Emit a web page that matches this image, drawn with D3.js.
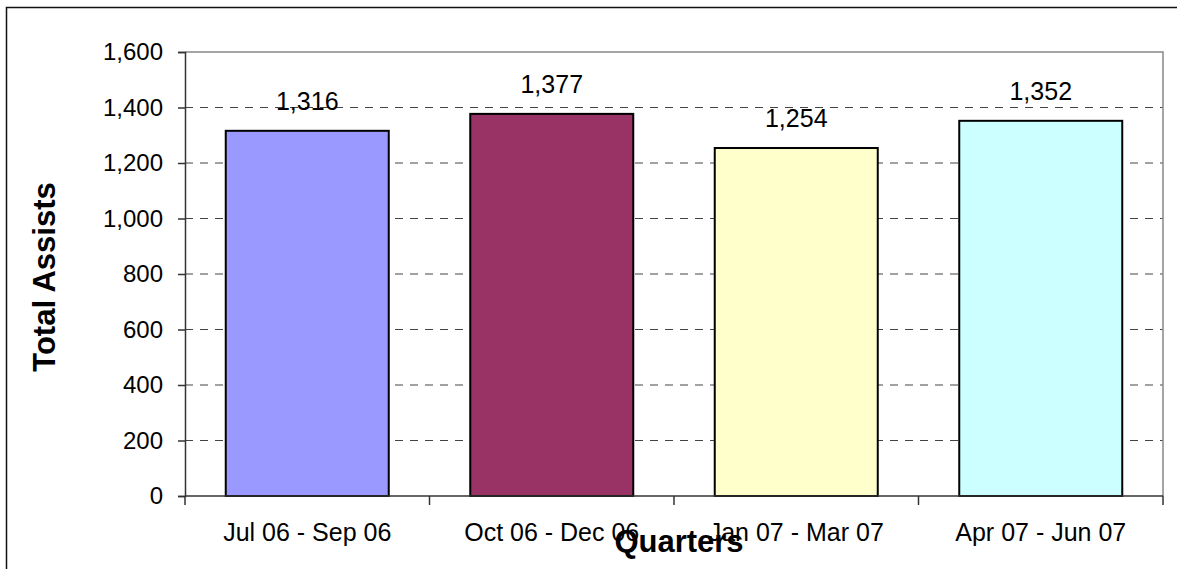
<!DOCTYPE html>
<html>
<head>
<meta charset="utf-8">
<script src="https://cdn.jsdelivr.net/npm/d3@7"></script>
<style>
  body { margin: 0; background: #fff; }
  svg { display: block; font-family: "Liberation Sans", Arial, sans-serif; }
</style>
</head>
<body>
<svg id="chart" width="1177" height="569"></svg>
<script>
// chart data
const quarters = ['Jul 06 - Sep 06', 'Oct 06 - Dec 06', 'Jan 07 - Mar 07', 'Apr 07 - Jun 07'];
const assists = [1316, 1377, 1254, 1352];
const barColors = ['#9999ff', '#993366', '#ffffcc', '#ccffff'];
const yTicks = [0, 200, 400, 600, 800, 1000, 1200, 1400, 1600];

const svg = d3.select('#chart');

// outer chart border (right/bottom run off the picture)
svg.append('rect')
  .attr('x', 6.5).attr('y', 7.5)
  .attr('width', 1200).attr('height', 600)
  .attr('fill', 'none')
  .attr('stroke', '#111')
  .attr('stroke-width', 1.5);

// plot area
const plot = { left: 185, right: 1163, top: 52, bottom: 496 };

const x = d3.scaleBand()
  .domain(quarters)
  .range([plot.left, plot.right])
  .paddingInner(1 / 3)
  .paddingOuter(1 / 6);

const y = d3.scaleLinear()
  .domain([0, 1600])
  .range([plot.bottom, plot.top]);

const fmt = d3.format(',');

// dashed gridlines
svg.append('g')
  .selectAll('line')
  .data(yTicks.filter(t => t > 0 && t < 1600))
  .join('line')
  .attr('x1', plot.left).attr('x2', plot.right)
  .attr('y1', d => y(d)).attr('y2', d => y(d))
  .attr('stroke', '#444')
  .attr('stroke-width', 1)
  .attr('stroke-dasharray', '8,7');

// frame top and right (gray)
svg.append('path')
  .attr('d', `M${plot.left},${plot.top}H${plot.right}V${plot.bottom}`)
  .attr('fill', 'none')
  .attr('stroke', '#888')
  .attr('stroke-width', 1.5);

// bars
svg.append('g')
  .selectAll('rect')
  .data(assists)
  .join('rect')
  .attr('x', (d, i) => x(quarters[i]))
  .attr('y', d => y(d))
  .attr('width', x.bandwidth())
  .attr('height', d => y(0) - y(d))
  .attr('fill', (d, i) => barColors[i])
  .attr('stroke', '#000')
  .attr('stroke-width', 2);

// value labels
svg.append('g')
  .selectAll('text')
  .data(assists)
  .join('text')
  .attr('x', (d, i) => x(quarters[i]) + x.bandwidth() / 2)
  .attr('y', d => y(d) - 21)
  .attr('text-anchor', 'middle')
  .attr('font-size', 25)
  .attr('fill', '#000')
  .text(d => fmt(d));

// y axis
const yAxis = svg.append('g')
  .attr('transform', `translate(${plot.left},0)`)
  .call(d3.axisLeft(y).tickValues(yTicks).tickFormat(fmt).tickSize(7).tickPadding(15));
yAxis.select('.domain').attr('stroke', '#333').attr('stroke-width', 1.5);
yAxis.selectAll('.tick line').attr('stroke', '#333').attr('stroke-width', 1.5);
yAxis.selectAll('.tick text')
  .attr('font-size', 24)
  .attr('font-family', '"Liberation Sans", Arial, sans-serif')
  .attr('fill', '#000');

// x axis: ticks between categories
const bounds = d3.range(quarters.length + 1).map(i => plot.left + i * x.step());
svg.append('line')
  .attr('x1', plot.left).attr('x2', plot.right)
  .attr('y1', plot.bottom).attr('y2', plot.bottom)
  .attr('stroke', '#333').attr('stroke-width', 1.5);
svg.append('g')
  .selectAll('line')
  .data(bounds)
  .join('line')
  .attr('x1', d => d).attr('x2', d => d)
  .attr('y1', plot.bottom).attr('y2', plot.bottom + 9)
  .attr('stroke', '#333').attr('stroke-width', 1.5);

// category labels
svg.append('g')
  .selectAll('text')
  .data(quarters)
  .join('text')
  .attr('x', d => x(d) + x.bandwidth() / 2)
  .attr('y', 541)
  .attr('text-anchor', 'middle')
  .attr('font-size', 25)
  .text(d => d);

// axis titles (the reference has Quarters sitting over the labels)
svg.append('text')
  .attr('x', (plot.left + plot.right) / 2 + 5)
  .attr('y', 552)
  .attr('text-anchor', 'middle')
  .attr('font-size', 31)
  .attr('font-weight', 'bold')
  .text('Quarters');

svg.append('text')
  .attr('transform', 'translate(55,277) rotate(-90)')
  .attr('text-anchor', 'middle')
  .attr('font-size', 31)
  .attr('font-weight', 'bold')
  .text('Total Assists');
</script>
</body>
</html>
